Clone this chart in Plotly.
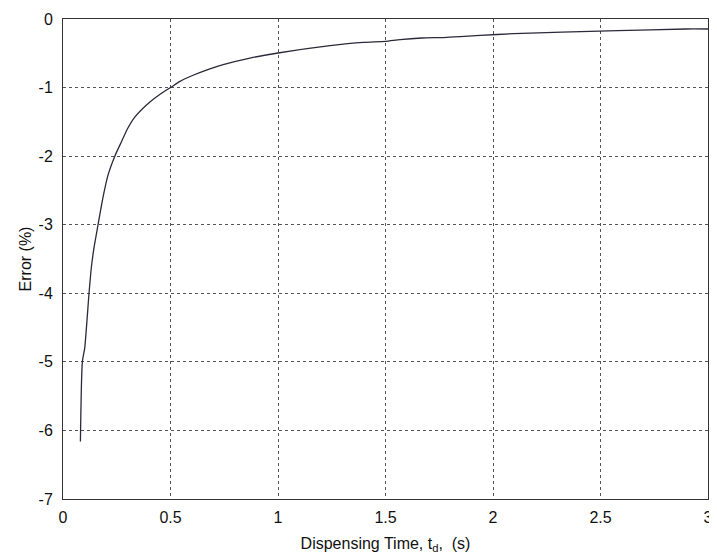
import plotly.graph_objects as go

# Values
t_values = [0.081, 0.090, 0.101, 0.121, 0.132, 0.143, 0.163, 0.186, 0.21, 0.241, 0.272, 0.30,
            0.334, 0.404, 0.45, 0.5, 0.544, 0.605, 0.68, 0.745, 0.87, 1.0, 1.242, 1.397, 1.5, 1.568,
            1.669, 1.786, 1.94, 2.096, 2.32, 2.58, 2.895, 3.0]
error_values = [-6.16, -5.0, -4.80, -4.0, -3.62, -3.36, -3.0, -2.60, -2.27, -2.0, -1.79, -1.6,
                -1.43, -1.21, -1.1, -1.0, -0.91, -0.82, -0.73, -0.665, -0.57, -0.496, -0.389, -0.341, -0.326, -0.30,
                -0.277, -0.268, -0.239, -0.214, -0.19, -0.17, -0.146, -0.146]

x_ticks = [0, 0.5, 1, 1.5, 2, 2.5, 3]
x_tick_labels = ["0", "0.5", "1", "1.5", "2", "2.5", "3"]
y_ticks = [0, -1, -2, -3, -4, -5, -6, -7]
y_tick_labels = ["0", "-1", "-2", "-3", "-4", "-5", "-6", "-7"]

FONT = "Liberation Sans, Arial, sans-serif"

fig = go.Figure()
fig.add_trace(go.Scatter(x=t_values, y=error_values, mode="lines",
                         line=dict(color="#2a2a3a", width=1.3, shape="spline", smoothing=0.6),
                         showlegend=False))

axis_common = dict(
    showgrid=True, gridcolor="#555555", griddash="dot", gridwidth=1,
    showline=True, linecolor="#333333", linewidth=1, mirror=True,
    ticks="", zeroline=False, automargin=False,
    tickfont=dict(family=FONT, size=16, color="#111111"),
)

fig.update_xaxes(range=[0, 3], tickvals=x_ticks, ticktext=x_tick_labels,
                 title=dict(text="Dispensing Time, t<sub>d</sub>,  (s)",
                            font=dict(family=FONT, size=16, color="#111111"),
                            standoff=12),
                 ticklabelstandoff=4,
                 **axis_common)
fig.update_yaxes(range=[-7, 0], tickvals=y_ticks, ticktext=y_tick_labels,
                 title=dict(text="Error (%)",
                            font=dict(family=FONT, size=16, color="#111111"),
                            standoff=2),
                 ticklabelstandoff=6,
                 **axis_common)

fig.update_layout(
    width=709, height=548,
    margin=dict(l=55, r=9, t=11, b=57),
    paper_bgcolor="white", plot_bgcolor="white",
)

fig.write_html("out.html")
